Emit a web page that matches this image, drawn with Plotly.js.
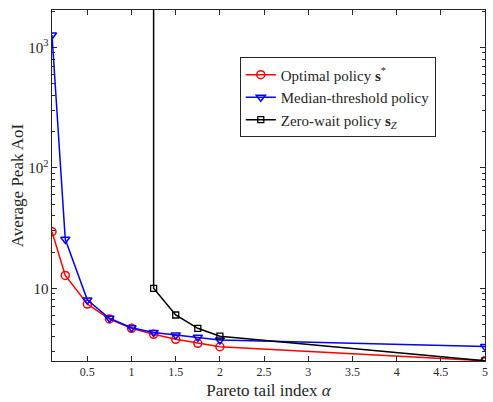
<!DOCTYPE html>
<html><head><meta charset="utf-8">
<script src="https://cdn.plot.ly/plotly-3.0.1.min.js"></script>
<style>body{margin:0;background:#fff}#c{width:493px;height:402px}</style>
</head><body><div id="c"></div>
<script>
const alphaOpt = [0.1, 0.25, 0.5, 0.75, 1, 1.25, 1.5, 1.75, 2, 5];
const optimal = [29.5, 12.8, 7.4, 5.56, 4.65, 4.15, 3.77, 3.49, 3.27, 2.5];
const alphaMed = [0.1, 0.25, 0.5, 0.75, 1, 1.25, 1.5, 1.75, 2, 5];
const median = [1270, 25.5, 8.0, 5.64, 4.70, 4.30, 4.09, 3.92, 3.72, 3.28];
const alphaZw = [1.25, 1.25, 1.5, 1.75, 2, 5];
const zeroWait = [1e6, 10.0, 6.0, 4.65, 4.0, 2.5];
const xTicks = [0.5, 1, 1.5, 2, 2.5, 3, 3.5, 4, 4.5, 5];

const fam = 'Liberation Serif, DejaVu Serif, serif';
const f = (s) => ({family: fam, size: s, color: '#262626'});
const traces = [
  {x: alphaOpt, y: optimal, name: 'Optimal policy <b>s</b><sup>*</sup>', mode: 'lines+markers',
   line: {color: '#ff0000', width: 1.5},
   marker: {symbol: 'circle-open', size: 8, color: '#ff0000', line: {width: 1.5}}},
  {x: alphaMed, y: median, name: 'Median-threshold policy', mode: 'lines+markers',
   line: {color: '#0000ff', width: 1.5},
   marker: {symbol: 'triangle-down-open', size: 8, color: '#0000ff', line: {width: 1.5}}},
  {x: alphaZw, y: zeroWait, name: 'Zero-wait policy <b>s</b><sub><i>Z</i></sub>', mode: 'lines+markers',
   line: {color: '#000000', width: 1.5},
   marker: {symbol: 'square-open', size: 6, color: '#000000', line: {width: 1.3}}}
];
const layout = {
  width: 493, height: 402,
  margin: {l: 52, r: 8, t: 10, b: 41},
  paper_bgcolor: '#fff', plot_bgcolor: '#fff',
  font: f(12),
  showlegend: true,
  legend: {x: 0.66, y: 0.751, xanchor: 'center', yanchor: 'middle',
    bgcolor: '#fff', bordercolor: '#262626', borderwidth: 1,
    font: f(15), tracegroupgap: 0, itemwidth: 30},
  xaxis: {range: [0.1, 5], tickvals: xTicks, ticktext: xTicks.map(String),
    ticks: 'inside', ticklen: 5, tickcolor: '#262626', showgrid: false, zeroline: false,
    showline: true, linecolor: '#262626', linewidth: 1, mirror: 'ticks',
    tickfont: f(12),
    title: {text: 'Pareto tail index <i>α</i>', font: f(17), standoff: 5}},
  yaxis: {type: 'log', range: [Math.log10(2.49), Math.log10(2046)], dtick: 1,
    exponentformat: 'power', ticks: 'inside', ticklen: 5, tickcolor: '#262626',
    minor: {ticks: 'inside', ticklen: 3, tickcolor: '#262626', dtick: 'D1', showgrid: false},
    showgrid: false, zeroline: false,
    showline: true, linecolor: '#262626', linewidth: 1, mirror: 'ticks',
    tickfont: f(12),
    title: {text: 'Average Peak AoI', font: f(17), standoff: 0}}
};
Plotly.newPlot('c', traces, layout, {displayModeBar: false, staticPlot: true});
</script></body></html>
